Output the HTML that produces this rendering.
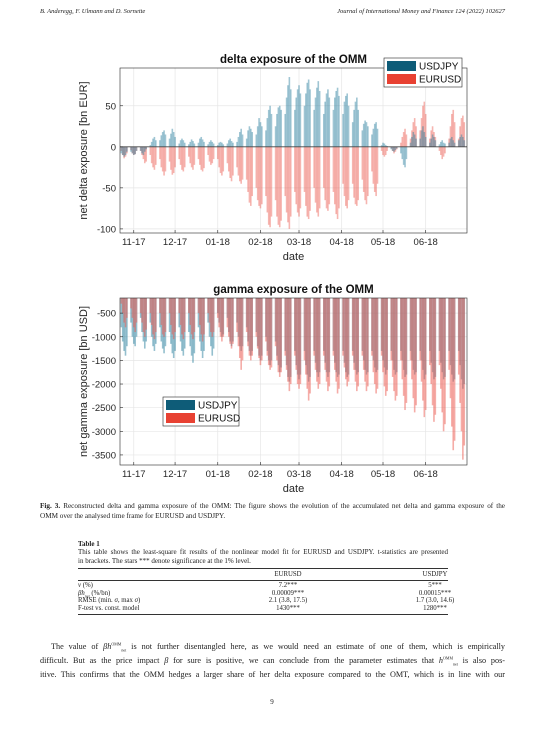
<!DOCTYPE html>
<html><head><meta charset="utf-8">
<style>
html,body{margin:0;padding:0;background:#fff;}
body{width:545px;height:743px;overflow:hidden;position:relative;}
.t{position:absolute;font-family:"Liberation Serif",serif;color:#222;white-space:nowrap;}
.j{text-align:justify;text-align-last:justify;white-space:normal;}
sup,sub{font-size:4px;line-height:0;}
</style></head><body>
<div class="t" style="left:40px;top:8px;font-size:6.5px;font-style:italic;">B. Anderegg, F. Ulmann and D. Sornette</div>
<div class="t" style="right:40px;top:8px;font-size:6.5px;font-style:italic;">Journal of International Money and Finance 124 (2022) 102627</div>

<svg id="fig" width="545" height="500" style="position:absolute;left:0;top:0;font-family:'Liberation Sans',sans-serif;"></svg>

<div>
<div class="t j" style="left:40px;top:502px;width:465px;font-size:7.2px;"><b>Fig. 3.</b> Reconstructed delta and gamma exposure of the OMM: The figure shows the evolution of the accumulated net delta and gamma exposure of the</div>
<div class="t" style="left:40px;top:512px;font-size:7.2px;">OMM over the analysed time frame for EURUSD and USDJPY.</div>
</div>

<div class="t" style="left:78px;top:540px;font-size:7px;font-weight:bold;">Table 1</div>
<div>
<div class="t j" style="left:78px;top:548px;width:370px;font-size:7px;">This table shows the least-square fit results of the nonlinear model fit for EURUSD and USDJPY. t-statistics are presented</div>
<div class="t" style="left:78px;top:557px;font-size:7px;">in brackets. The stars *** denote significance at the 1% level.</div>
</div>
<div style="position:absolute;left:78px;top:568px;width:370px;height:1px;background:#333;"></div>
<div class="t" style="left:258px;top:571px;width:60px;text-align:center;font-size:6.8px;">EURUSD</div>
<div class="t" style="left:410px;top:571px;width:50px;text-align:center;font-size:6.8px;">USDJPY</div>
<div style="position:absolute;left:78px;top:580px;width:370px;height:0.6px;background:#333;"></div>
<div class="t" style="left:78px;top:582px;font-size:6.8px;line-height:7.7px;"><i>ν</i> (%)<br><i>βh</i><sub>net</sub> (%/bn)<br>RMSE (min. <i>σ</i>, max <i>σ</i>)<br>F-test vs. const. model</div>
<div class="t" style="left:238px;top:582px;width:100px;text-align:center;font-size:6.8px;line-height:7.7px;">7.2***<br>0.00009***<br>2.1 (3.8, 17.5)<br>1430***</div>
<div class="t" style="left:385px;top:582px;width:100px;text-align:center;font-size:6.8px;line-height:7.7px;">5***<br>0.00015***<br>1.7 (3.0, 14.6)<br>1280***</div>
<div style="position:absolute;left:78px;top:614px;width:370px;height:0.6px;background:#333;"></div>

<div>
<div class="t j" style="left:51px;top:642px;width:454px;font-size:8.2px;">The value of <i>βh</i><sup>OMM</sup><sub>net</sub> is not further disentangled here, as we would need an estimate of one of them, which is empirically</div>
<div class="t j" style="left:40px;top:656px;width:465px;font-size:8.2px;">difficult. But as the price impact <i>β</i> for sure is positive, we can conclude from the parameter estimates that <i>h</i><sup>OMM</sup><sub>net</sub> is also pos-</div>
<div class="t j" style="left:40px;top:670px;width:465px;font-size:8.2px;">itive. This confirms that the OMM hedges a larger share of her delta exposure compared to the OMT, which is in line with our</div>
</div>
<div class="t" style="left:262px;top:698px;width:20px;text-align:center;font-size:7px;">9</div>

<script>
const monthLabels=["11-17","12-17","01-18","02-18","03-18","04-18","05-18","06-18"];
const monthDays=[10,40,71,102,130,161,191,222];
const deltaTicks=[50,0,-50,-100];
const gammaTicks=[-500,-1000,-1500,-2000,-2500,-3000,-3500];
const deltaJPY=[-8,-10,-12,-10,-6, -6,-8,-10,-9,-5, -5,-8,-10,-6,-3, 2,6,10,12,8, 8,14,18,20,15, 10,16,22,18,12, 4,8,10,8,5, 3,6,9,7,4, 5,10,12,9,6, 3,6,8,6,4, 2,5,6,5,3, 4,8,10,7,5, 6,12,18,22,15, 10,20,25,22,18, 15,25,35,30,25, 20,35,45,50,40, 25,40,48,50,45, 40,60,75,85,70, 45,60,70,75,65, 50,65,78,82,70, 45,60,72,80,68, 40,55,65,70,60, 45,60,68,72,62, 40,55,62,65,50, 30,45,55,60,45, 20,28,32,30,25, 15,22,28,30,22, 2,5,4,2,1, -3,-5,-6,-4,-2, -8,-15,-22,-25,-15, 5,12,18,15,10, 10,20,25,18,12, 5,10,15,12,8, 3,6,8,5,4, 5,10,12,8,5, 8,12,15,12,8];
const deltaEUR=[-5,-10,-14,-12,-8, -4,-8,-10,-9,-5, -5,-10,-15,-20,-18, -10,-20,-25,-28,-22, -15,-25,-30,-35,-30, -18,-28,-34,-32,-25, -15,-22,-28,-30,-25, -12,-20,-25,-28,-22, -15,-22,-28,-30,-26, -10,-18,-22,-20,-15, -15,-25,-32,-35,-30, -20,-30,-38,-42,-35, -25,-35,-42,-45,-40, -40,-55,-68,-72,-60, -50,-65,-72,-75,-70, -60,-80,-95,-98,-85, -65,-85,-95,-98,-90, -60,-80,-92,-100,-85, -55,-70,-80,-85,-75, -55,-72,-85,-88,-78, -50,-68,-80,-85,-75, -50,-65,-75,-78,-70, -55,-70,-82,-88,-75, -45,-60,-72,-75,-65, -45,-62,-70,-72,-65, -40,-55,-65,-70,-60, -30,-45,-55,-60,-45, -5,-10,-12,-10,-5, -2,-5,-8,-6,-3, 5,12,18,22,15, 10,20,30,35,25, 20,35,50,55,40, 10,20,25,18,12, -5,-10,-15,-12,-8, 10,25,40,45,30, 10,25,35,38,30];
const gammaJPY=[-800,-1100,-1300,-1400,-1200, -700,-1000,-1150,-1200,-1000, -600,-900,-1100,-1250,-1100, -700,-1000,-1200,-1300,-1150, -800,-1100,-1250,-1350,-1200, -900,-1150,-1350,-1450,-1300, -800,-1100,-1300,-1400,-1250, -900,-1200,-1400,-1550,-1350, -800,-1100,-1300,-1450,-1300, -700,-1000,-1200,-1400,-1250, -500,-700,-900,-1000,-950, -600,-900,-1100,-1200,-1100, -700,-1000,-1200,-1300,-1200, -800,-1100,-1300,-1400,-1300, -900,-1200,-1400,-1500,-1400, -1000,-1300,-1500,-1600,-1500, -1100,-1400,-1600,-1750,-1650, -1300,-1600,-1850,-1950,-1850, -1300,-1600,-1800,-1900,-1800, -1300,-1600,-1800,-1950,-1850, -1300,-1550,-1750,-1850,-1750, -1300,-1550,-1750,-1850,-1750, -1300,-1550,-1750,-1850,-1800, -1300,-1550,-1750,-1850,-1800, -1300,-1550,-1700,-1800,-1750, -1300,-1500,-1700,-1800,-1750, -1300,-1500,-1650,-1750,-1700, -1300,-1500,-1650,-1800,-1700, -1300,-1500,-1700,-1800,-1750, -1300,-1500,-1700,-1850,-1800, -1300,-1500,-1700,-1800,-1750, -1300,-1500,-1700,-1900,-1800, -1300,-1550,-1750,-1900,-1850, -1300,-1550,-1750,-1900,-1850, -1300,-1600,-1800,-1950,-1900, -1300,-1600,-1900,-2100,-2000];
const gammaEUR=[-300,-500,-700,-800,-600, -400,-600,-800,-900,-700, -500,-700,-900,-1000,-850, -500,-750,-950,-1050,-900, -500,-750,-950,-1000,-900, -500,-750,-950,-1050,-900, -500,-750,-950,-1050,-900, -500,-750,-950,-1050,-900, -500,-750,-950,-1100,-950, -500,-700,-900,-1000,-900, -600,-800,-1000,-1100,-1000, -800,-1000,-1150,-1250,-1150, -900,-1200,-1450,-1700,-1500, -900,-1200,-1400,-1500,-1400, -1000,-1250,-1450,-1600,-1500, -1100,-1400,-1600,-1700,-1650, -1200,-1500,-1750,-1850,-1750, -1400,-1700,-1950,-2150,-2000, -1400,-1700,-2000,-2100,-2000, -1500,-1800,-2100,-2350,-2200, -1400,-1700,-1950,-2100,-2000, -1400,-1700,-1950,-2150,-2050, -1400,-1700,-1950,-2200,-2100, -1400,-1650,-1900,-2050,-1950, -1400,-1700,-1950,-2150,-2050, -1400,-1700,-1950,-2150,-2050, -1400,-1750,-2000,-2200,-2100, -1400,-1750,-2050,-2250,-2150, -1500,-1850,-2150,-2350,-2250, -1500,-1900,-2250,-2550,-2400, -1500,-1900,-2300,-2600,-2450, -1500,-1950,-2350,-2700,-2550, -1600,-2000,-2450,-2800,-2650, -1600,-2100,-2600,-3000,-2850, -1700,-2300,-2900,-3400,-3200, -1800,-2400,-3000,-3600,-3300];

const NS='http://www.w3.org/2000/svg';
const svg=document.getElementById('fig');
function mk(tag,attrs,parent){const e=document.createElementNS(NS,tag);for(const k in attrs)e.setAttribute(k,attrs[k]);(parent||svg).appendChild(e);return e;}
const X0=120,X1=467,D0=0,D1=252;
function xDay(d){return X0+(d-D0)/(D1-D0)*(X1-X0);}
function dayOf(i){return 1+Math.floor(i/5)*7+(i%5);}

function chart(cfg){
  const {top,bot,vmax,vmin,ticks,title,ylabel,series,legend,name,base,zero}=cfg;
  const y=v=>top+(vmax-v)/(vmax-vmin)*(bot-top);
  const g=mk('g',{});
  
  
  const clipId='clip-'+name;
  const cp=mk('clipPath',{id:clipId},g);mk('rect',{x:X0,y:top,width:X1-X0,height:bot-top},cp);
  ticks.forEach(t=>{const l=mk('line',{x1:X0,x2:X1,y1:y(t),y2:y(t),stroke:'#e6e6e6','stroke-width':0.7},g);});
  monthDays.forEach(d=>{const l=mk('line',{x1:xDay(d),x2:xDay(d),y1:top,y2:bot,stroke:'#e6e6e6','stroke-width':0.7},g);});
  const bars=mk('g',{'clip-path':'url(#'+clipId+')'},g);
  
  
  series.forEach(s=>{
    s.data.forEach((v,i)=>{
      const xc=xDay(dayOf(i));const y0=y(base),y1=y(v);
      const r=mk('rect',{x:xc-0.8,width:1.6,y:Math.min(y0,y1),height:Math.abs(y1-y0),fill:s.color,'fill-opacity':s.op},bars);
      
      
    });
  });
  if(zero){const z=mk('line',{x1:X0,x2:X1,y1:y(0),y2:y(0),stroke:'#444','stroke-width':0.9},g);}
  const box=mk('rect',{x:X0,y:top,width:X1-X0,height:bot-top,fill:'none',stroke:'#262626','stroke-width':0.6},g);
  
  ticks.forEach(t=>{
    mk('line',{x1:X0,x2:X0+3,y1:y(t),y2:y(t),stroke:'#262626','stroke-width':0.6},g);
    const tx=mk('text',{x:X0-4,y:y(t)+3.5,'text-anchor':'end','font-size':9.5,fill:'#262626'},g);tx.textContent=t;
    
  });
  monthDays.forEach((d,i)=>{
    mk('line',{x1:xDay(d),x2:xDay(d),y1:bot,y2:bot-3,stroke:'#262626','stroke-width':0.6},g);
    const tx=mk('text',{x:xDay(d),y:bot+12,'text-anchor':'middle','font-size':9.5,fill:'#262626'},g);tx.textContent=monthLabels[i];
    
  });
  const tt=mk('text',{x:(X0+X1)/2,y:top-5,'text-anchor':'middle','font-size':11.5,'font-weight':'bold',fill:'#111'},g);tt.textContent=title;
  
  const xl=mk('text',{x:(X0+X1)/2,y:bot+27,'text-anchor':'middle','font-size':11,fill:'#262626'},g);xl.textContent='date';
  
  const cy=(top+bot)/2;
  const yl=mk('text',{x:0,y:0,transform:'translate(87,'+cy+') rotate(-90)','text-anchor':'middle','font-size':11,fill:'#262626'},g);yl.textContent=ylabel;
  
  const L=legend;const lg=mk('g',{},g);
  
  mk('rect',{x:L.x,y:L.y,width:L.w,height:29,fill:'#fff',stroke:'#262626','stroke-width':0.6},lg);
  const order=['usdjpy','eurusd'];
  order.forEach((k,i)=>{
    const s=series.find(q=>q.key===k);
    const sw=mk('rect',{x:L.x+3,y:L.y+3+i*13,width:29,height:10,fill:s.swatch},lg);
    
    const t=mk('text',{x:L.x+35,y:L.y+11.5+i*13,'font-size':10,fill:'#111'},lg);t.textContent=s.label;
    
  });
}
chart({name:'delta-chart',top:68,bot:233,vmax:96,vmin:-105,ticks:deltaTicks,base:0,zero:true,title:'delta exposure of the OMM',ylabel:'net delta exposure [bn EUR]',
  legend:{x:384,y:58,w:78},
  series:[{key:'eurusd',label:'EURUSD',data:deltaEUR,color:'#ec5a50',swatch:'#e84132',op:0.45},{key:'usdjpy',label:'USDJPY',data:deltaJPY,color:'#2a7f9e',swatch:'#0e5c78',op:0.45}]});
chart({name:'gamma-chart',top:298,bot:465,vmax:-180,vmin:-3713,ticks:gammaTicks,base:0,zero:false,title:'gamma exposure of the OMM',ylabel:'net gamma exposure [bn USD]',
  legend:{x:163,y:397,w:76},
  series:[{key:'usdjpy',label:'USDJPY',data:gammaJPY,color:'#2a7f9e',swatch:'#0e5c78',op:0.5},{key:'eurusd',label:'EURUSD',data:gammaEUR,color:'#ec5a50',swatch:'#e84132',op:0.5}]});
</script>
</body></html>
